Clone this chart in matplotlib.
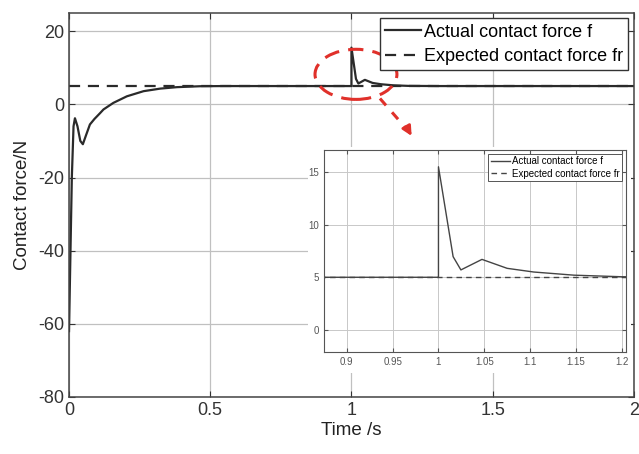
import numpy as np
import matplotlib.pyplot as plt
from matplotlib.patches import Ellipse, Rectangle

# data
t_actual = [0, 0.01, 0.016, 0.021, 0.03, 0.04, 0.049, 0.06, 0.074, 0.09, 0.11, 0.122,
            0.157, 0.205, 0.264, 0.323, 0.382, 0.464, 0.55, 0.7, 1.0, 1.0, 1.016,
            1.0245, 1.0475, 1.075, 1.104, 1.148, 1.2, 1.3, 2.0]
f_actual = [-62, -20, -6, -3.8, -6, -10, -10.9, -8.5, -5.5, -4, -2.4, -1.4,
            0.4, 2.2, 3.6, 4.3, 4.7, 4.95, 5.0, 5.0, 5.0, 15.5, 6.96,
            5.7, 6.7, 5.85, 5.5, 5.2, 5.05, 5.0, 5.0]
t_expected = [0, 2.0]
f_expected = [5, 5]

main_xticks = [0, 0.5, 1, 1.5, 2]
main_xlabels = ['0', '0.5', '1', '1.5', '2']
main_yticks = [-80, -60, -40, -20, 0, 20]
zoom_xticks = [0.9, 0.95, 1, 1.05, 1.1, 1.15, 1.2]
zoom_xlabels = ['0.9', '0.95', '1', '1.05', '1.1', '1.15', '1.2']
zoom_yticks = [0, 5, 10, 15]

plt.rcParams['font.family'] = ['Liberation Sans', 'DejaVu Sans']
plt.rcParams['axes.unicode_minus'] = False

fig = plt.figure(figsize=(6.39, 4.54), dpi=100)
ax = fig.add_axes([0.108, 0.1256, 0.884, 0.846])

ax.plot(t_actual, f_actual, color='#2a2a2a', lw=1.6, label='Actual contact force f')
ax.plot(t_expected, f_expected, color='#2a2a2a', lw=1.6, ls=(0, (5, 3.5)),
        label='Expected contact force fr')
ax.set_xlim(0, 2)
ax.set_ylim(-80, 25)
ax.set_xticks(main_xticks)
ax.set_xticklabels(main_xlabels)
ax.set_yticks(main_yticks)
ax.grid(True, color='#c0c0c0', lw=0.9)
ax.tick_params(direction='in', labelsize=13, colors='#333333', top=True, right=True,
               length=4)
for s in ax.spines.values():
    s.set_color('#444444')
    s.set_linewidth(1.1)
ax.set_xlabel('Time /s', fontsize=13.5, color='#222222', labelpad=2)
ax.set_ylabel('Contact force/N', fontsize=13.5, color='#222222', labelpad=5)

leg = ax.legend(loc='upper right', fontsize=13, fancybox=False, framealpha=1,
                edgecolor='#333333', borderaxespad=0.3, handlelength=2.0,
                handletextpad=0.15, borderpad=0.3, labelspacing=0.4)
leg.get_frame().set_linewidth(1.0)

# red dashed ellipse and arrow marking the zoomed region
ell = Ellipse((1.016, 8.2), 0.29, 13.7, fill=False, ec='#e0302a', lw=2.2,
              ls=(0, (5, 3)), zorder=5)
ax.add_patch(ell)
ax.plot([1.101, 1.205], [1.6, -7.6], color='#e0302a', lw=2.2, ls=(0, (3, 3)))
ax.annotate('', xy=(1.218, -9.3), xytext=(1.200, -6.9),
            arrowprops=dict(arrowstyle='-|>', color='#e0302a', lw=2,
                            mutation_scale=14))

# white background behind inset
fig.patches.append(Rectangle((0.482, 0.178), 0.505, 0.498, transform=fig.transFigure,
                             facecolor='white', edgecolor='none', zorder=1))

ins = fig.add_axes([0.507, 0.2247, 0.473, 0.445], zorder=2)
ins.plot(t_actual, f_actual, color='#444444', lw=1.0, label='Actual contact force f')
ins.plot(t_expected, f_expected, color='#444444', lw=1.0, ls=(0, (4, 3)),
         label='Expected contact force fr')
ins.set_xlim(0.875, 1.205)
ins.set_ylim(-2.1, 17.1)
ins.set_xticks(zoom_xticks)
ins.set_xticklabels(zoom_xlabels)
ins.set_yticks(zoom_yticks)
ins.grid(True, color='#c8c8c8', lw=0.7)
ins.tick_params(direction='in', labelsize=7, colors='#555555', top=True, right=True,
                length=3)
for s in ins.spines.values():
    s.set_color('#555555')
    s.set_linewidth(0.8)
leg2 = ins.legend(loc='upper right', fontsize=7, fancybox=False, framealpha=1,
                  edgecolor='#555555', borderaxespad=0.4, handlelength=2.0,
                  handletextpad=0.2, borderpad=0.25, labelspacing=0.25)
leg2.get_frame().set_linewidth(0.7)

fig.savefig('out.png', dpi=100)
